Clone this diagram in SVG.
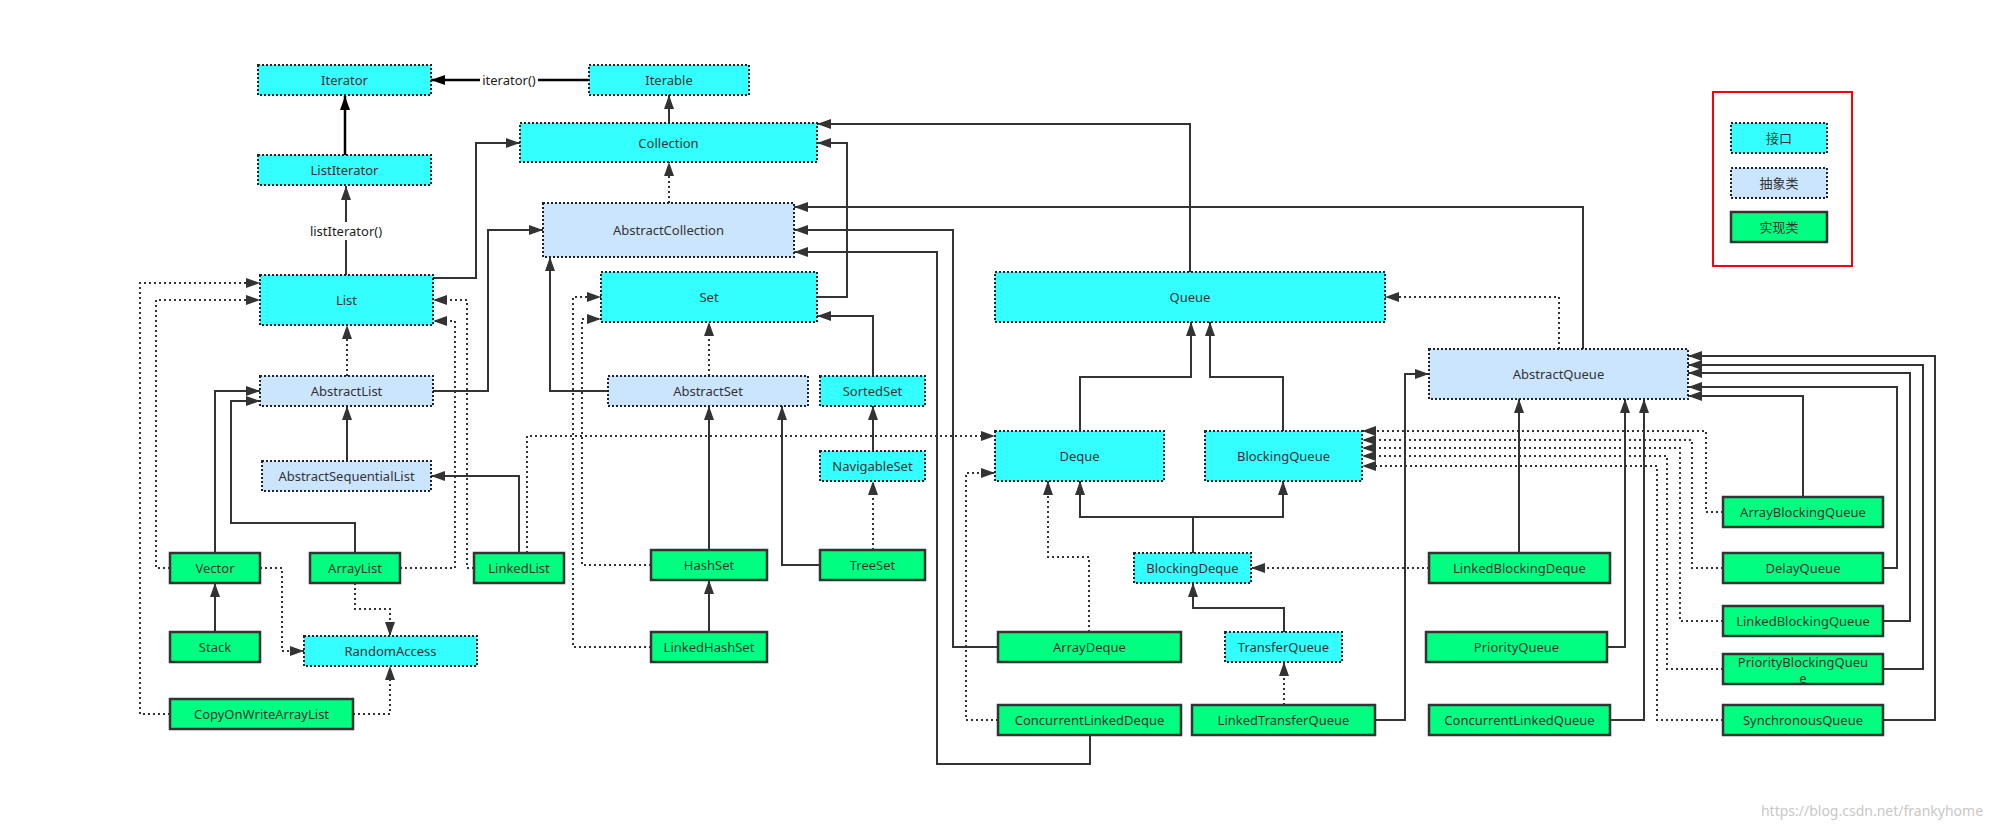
<svg xmlns="http://www.w3.org/2000/svg" width="1996" height="827" viewBox="0 0 1996 827">
<style>
.i{fill:#33ffff;stroke:#222;stroke-width:2;stroke-dasharray:2 2}
.a{fill:#cce5ff;stroke:#222;stroke-width:2;stroke-dasharray:2 2}
.c{fill:#00ff80;stroke:#333;stroke-width:2.5}
text{font-family:"Noto Sans","Noto Sans CJK SC",sans-serif;font-size:13px;fill:#333;text-anchor:middle;dominant-baseline:central}
.s{fill:none;stroke:#333;stroke-width:2;marker-end:url(#ah)}
.n{fill:none;stroke:#333;stroke-width:2}
.d{fill:none;stroke:#333;stroke-width:2;stroke-dasharray:2 3;marker-end:url(#ah)}
.k{fill:none;stroke:#000;stroke-width:2.5;marker-end:url(#ak)}
.lbl{fill:#fff;stroke:none}
</style>
<defs>
<marker id="ah" viewBox="0 0 14 10" markerWidth="14" markerHeight="10" refX="14" refY="5" orient="auto" markerUnits="userSpaceOnUse"><path d="M0,0 L14,5 L0,10 z" fill="#333"/></marker>
<marker id="ak" viewBox="0 0 14 10" markerWidth="14" markerHeight="10" refX="14" refY="5" orient="auto" markerUnits="userSpaceOnUse"><path d="M0,0 L14,5 L0,10 z" fill="#000"/></marker>
</defs>
<rect width="1996" height="827" fill="#fff"/>

<g id="connectors">
<path class="k" d="M589,80 L431,80"/>
<path class="k" d="M345,155 L345,96"/>
<path class="s" d="M346,275 L346,186"/>
<path class="s" d="M669,123 L669,95"/>
<path class="s" d="M433,278 L476,278 L476,143 L520,143"/>
<path class="d" d="M669,203 L669,162"/>
<path class="s" d="M433,391 L488,391 L488,230 L543,230"/>
<path class="d" d="M347,376 L347,325"/>
<path class="s" d="M347,461 L347,406"/>
<path class="s" d="M519,553 L519,476 L431,476"/>
<path class="d" d="M527,553 L527,436 L995,436"/>
<path class="d" d="M474,568 L467,568 L467,300 L433,300"/>
<path class="d" d="M400,568 L455,568 L455,321 L433,321"/>
<path class="s" d="M215,553 L215,391 L260,391"/>
<path class="s" d="M355,553 L355,523 L231,523 L231,401 L260,401"/>
<path class="d" d="M170,568 L156,568 L156,300 L260,300"/>
<path class="d" d="M170,714 L140,714 L140,283 L260,283"/>
<path class="s" d="M215,632 L215,583"/>
<path class="d" d="M355,583 L355,609 L390,609 L390,636"/>
<path class="d" d="M260,568 L282,568 L282,651 L304,651"/>
<path class="d" d="M353,714 L390,714 L390,666"/>
<path class="s" d="M817,297 L847,297 L847,143 L817,143"/>
<path class="d" d="M709,376 L709,322"/>
<path class="s" d="M608,391 L550,391 L550,257"/>
<path class="s" d="M873,376 L873,316 L817,316"/>
<path class="s" d="M873,451 L873,406"/>
<path class="d" d="M873,550 L873,481"/>
<path class="s" d="M820,565 L782,565 L782,406"/>
<path class="s" d="M709,550 L709,406"/>
<path class="s" d="M709,632 L709,580"/>
<path class="d" d="M651,565 L582,565 L582,319 L601,319"/>
<path class="d" d="M651,647 L573,647 L573,297 L601,297"/>
<path class="s" d="M1190,272 L1190,124 L817,124"/>
<path class="s" d="M1583,349 L1583,207 L794,207"/>
<path class="d" d="M1559,349 L1559,297 L1385,297"/>
<path class="s" d="M1080,431 L1080,377 L1191,377 L1191,322"/>
<path class="s" d="M1283,431 L1283,377 L1210,377 L1210,322"/>
<path class="d" d="M1089,632 L1089,557 L1048,557 L1048,481"/>
<path class="s" d="M998,647 L953,647 L953,230 L794,230"/>
<path class="d" d="M998,720 L966,720 L966,473 L995,473"/>
<path class="s" d="M1090,735 L1090,764 L937,764 L937,252 L794,252"/>
<path class="s" d="M1193,553 L1193,517 L1080,517 L1080,481"/>
<path class="s" d="M1193,517 L1283,517 L1283,481"/>
<path class="s" d="M1284,632 L1284,608 L1193,608 L1193,583"/>
<path class="d" d="M1284,705 L1284,662"/>
<path class="s" d="M1375,720 L1405,720 L1405,374 L1429,374"/>
<path class="d" d="M1429,568 L1251,568"/>
<path class="s" d="M1519,553 L1519,399"/>
<path class="s" d="M1607,647 L1625,647 L1625,399"/>
<path class="s" d="M1610,720 L1644,720 L1644,399"/>
<path class="s" d="M1803,497 L1803,396 L1688,396"/>
<path class="s" d="M1883,568 L1897,568 L1897,387 L1688,387"/>
<path class="s" d="M1883,621 L1910,621 L1910,373 L1688,373"/>
<path class="s" d="M1883,669 L1923,669 L1923,365 L1688,365"/>
<path class="s" d="M1883,720 L1935,720 L1935,356 L1688,356"/>
<path class="d" d="M1723,512 L1706,512 L1706,431 L1362,431"/>
<path class="d" d="M1723,568 L1692,568 L1692,440 L1362,440"/>
<path class="d" d="M1723,621 L1680,621 L1680,448 L1362,448"/>
<path class="d" d="M1723,669 L1667,669 L1667,456 L1362,456"/>
<path class="d" d="M1723,720 L1657,720 L1657,466 L1362,466"/>
<rect class="lbl" x="480" y="72" width="58" height="16"/>
<text x="509" y="80" style="fill:#222">iterator()</text>
<rect class="lbl" x="307" y="222" width="78" height="18"/>
<text x="346" y="231" style="fill:#222">listIterator()</text>
</g>

<g id="Iterator"><rect class="i" x="258" y="65" width="173" height="30"/><text x="344.5" y="80">Iterator</text></g>
<g id="Iterable"><rect class="i" x="589" y="65" width="160" height="30"/><text x="669" y="80">Iterable</text></g>
<g id="ListIterator"><rect class="i" x="258" y="155" width="173" height="30"/><text x="344.5" y="170">ListIterator</text></g>
<g id="Collection"><rect class="i" x="520" y="123" width="297" height="39"/><text x="668.5" y="143">Collection</text></g>
<g id="List"><rect class="i" x="260" y="275" width="173" height="50"/><text x="346.5" y="300">List</text></g>
<g id="Set"><rect class="i" x="601" y="272" width="216" height="50"/><text x="709" y="297">Set</text></g>
<g id="SortedSet"><rect class="i" x="820" y="376" width="105" height="30"/><text x="872.5" y="391">SortedSet</text></g>
<g id="NavigableSet"><rect class="i" x="820" y="451" width="105" height="30"/><text x="872.5" y="466">NavigableSet</text></g>
<g id="RandomAccess"><rect class="i" x="304" y="636" width="173" height="30"/><text x="390.5" y="651">RandomAccess</text></g>
<g id="Queue"><rect class="i" x="995" y="272" width="390" height="50"/><text x="1190" y="297">Queue</text></g>
<g id="Deque"><rect class="i" x="995" y="431" width="169" height="50"/><text x="1079.5" y="456">Deque</text></g>
<g id="BlockingQueue"><rect class="i" x="1205" y="431" width="157" height="50"/><text x="1283.5" y="456">BlockingQueue</text></g>
<g id="BlockingDeque"><rect class="i" x="1134" y="553" width="117" height="30"/><text x="1192.5" y="568">BlockingDeque</text></g>
<g id="TransferQueue"><rect class="i" x="1225" y="632" width="117" height="30"/><text x="1283.5" y="647">TransferQueue</text></g>

<g id="AbstractCollection"><rect class="a" x="543" y="203" width="251" height="54"/><text x="668.5" y="230">AbstractCollection</text></g>
<g id="AbstractList"><rect class="a" x="260" y="376" width="173" height="30"/><text x="346.5" y="391">AbstractList</text></g>
<g id="AbstractSequentialList"><rect class="a" x="262" y="461" width="169" height="30"/><text x="346.5" y="476">AbstractSequentialList</text></g>
<g id="AbstractSet"><rect class="a" x="608" y="376" width="200" height="30"/><text x="708" y="391">AbstractSet</text></g>
<g id="AbstractQueue"><rect class="a" x="1429" y="349" width="259" height="50"/><text x="1558.5" y="374">AbstractQueue</text></g>

<g id="Vector"><rect class="c" x="170" y="553" width="90" height="30"/><text x="215" y="568">Vector</text></g>
<g id="ArrayList"><rect class="c" x="310" y="553" width="90" height="30"/><text x="355" y="568">ArrayList</text></g>
<g id="LinkedList"><rect class="c" x="474" y="553" width="90" height="30"/><text x="519" y="568">LinkedList</text></g>
<g id="Stack"><rect class="c" x="170" y="632" width="90" height="30"/><text x="215" y="647">Stack</text></g>
<g id="CopyOnWriteArrayList"><rect class="c" x="170" y="699" width="183" height="30"/><text x="261.5" y="714">CopyOnWriteArrayList</text></g>
<g id="HashSet"><rect class="c" x="651" y="550" width="116" height="30"/><text x="709" y="565">HashSet</text></g>
<g id="LinkedHashSet"><rect class="c" x="651" y="632" width="116" height="30"/><text x="709" y="647">LinkedHashSet</text></g>
<g id="TreeSet"><rect class="c" x="820" y="550" width="105" height="30"/><text x="872.5" y="565">TreeSet</text></g>
<g id="ArrayDeque"><rect class="c" x="998" y="632" width="183" height="30"/><text x="1089.5" y="647">ArrayDeque</text></g>
<g id="ConcurrentLinkedDeque"><rect class="c" x="998" y="705" width="183" height="30"/><text x="1089.5" y="720">ConcurrentLinkedDeque</text></g>
<g id="LinkedTransferQueue"><rect class="c" x="1192" y="705" width="183" height="30"/><text x="1283.5" y="720">LinkedTransferQueue</text></g>
<g id="LinkedBlockingDeque"><rect class="c" x="1429" y="553" width="181" height="30"/><text x="1519.5" y="568">LinkedBlockingDeque</text></g>
<g id="PriorityQueue"><rect class="c" x="1426" y="632" width="181" height="30"/><text x="1516.5" y="647">PriorityQueue</text></g>
<g id="ConcurrentLinkedQueue"><rect class="c" x="1429" y="705" width="181" height="30"/><text x="1519.5" y="720">ConcurrentLinkedQueue</text></g>
<g id="ArrayBlockingQueue"><rect class="c" x="1723" y="497" width="160" height="30"/><text x="1803" y="512">ArrayBlockingQueue</text></g>
<g id="DelayQueue"><rect class="c" x="1723" y="553" width="160" height="30"/><text x="1803" y="568">DelayQueue</text></g>
<g id="LinkedBlockingQueue"><rect class="c" x="1723" y="606" width="160" height="30"/><text x="1803" y="621">LinkedBlockingQueue</text></g>
<g id="PriorityBlockingQueue"><rect class="c" x="1723" y="654" width="160" height="30"/><text x="1803" y="662">PriorityBlockingQueu</text><text x="1803" y="678">e</text></g>
<g id="SynchronousQueue"><rect class="c" x="1723" y="705" width="160" height="30"/><text x="1803" y="720">SynchronousQueue</text></g>

<g id="legend">
<rect x="1713" y="92" width="139" height="174" fill="none" stroke="#ff0000" stroke-width="2"/>
<rect class="i" x="1731" y="123" width="96" height="30"/><text x="1779" y="138">接口</text>
<rect class="a" x="1731" y="168" width="96" height="30"/><text x="1779" y="183">抽象类</text>
<rect class="c" x="1731" y="212" width="96" height="30"/><text x="1779" y="227">实现类</text>
</g>
<text x="1872" y="810" style="fill:#c8c8c8;font-size:14px">https://blog.csdn.net/frankyhome</text>
</svg>
